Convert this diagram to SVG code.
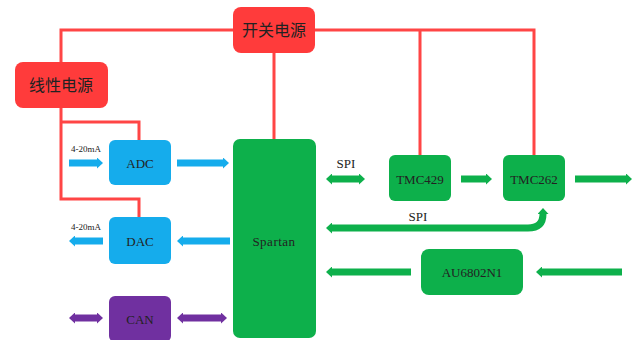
<svg xmlns="http://www.w3.org/2000/svg" width="636" height="340" viewBox="0 0 636 340">
<defs>
<style>
.t{font-family:"Liberation Serif","Noto Sans CJK SC",serif;fill:#222;text-anchor:middle;dominant-baseline:central}
.red{fill:#FF3B3B}
.blue{fill:#15ACEC}
.green{fill:#0DB04B}
.purple{fill:#7030A0}
.wire{fill:none;stroke:#FF4545;stroke-width:3}
.ab{stroke:#15ACEC;stroke-width:7;fill:none}
.ag{stroke:#0DB04B;stroke-width:7;fill:none}
.ap{stroke:#7030A0;stroke-width:7;fill:none}
</style>
<marker id="hb" viewBox="0 0 6 11" refX="0" refY="5.5" markerWidth="6" markerHeight="11" markerUnits="userSpaceOnUse" orient="auto-start-reverse"><path d="M0,0 L6,5.5 L0,11 z" fill="#15ACEC"/></marker>
<marker id="hg" viewBox="0 0 6 11" refX="0" refY="5.5" markerWidth="6" markerHeight="11" markerUnits="userSpaceOnUse" orient="auto-start-reverse"><path d="M0,0 L6,5.5 L0,11 z" fill="#0DB04B"/></marker>
<marker id="hp" viewBox="0 0 6 11" refX="0" refY="5.5" markerWidth="6" markerHeight="11" markerUnits="userSpaceOnUse" orient="auto-start-reverse"><path d="M0,0 L6,5.5 L0,11 z" fill="#7030A0"/></marker>
</defs>
<rect width="636" height="340" fill="#fff"/>
<g id="connectors">
<path class="wire" d="M61,62 V30 H233 M315,30 H534 V155 M420,30 V155 M274,53 V139 M61,108 V199 H139 V217 M61,122 H139 V140"/>
<line class="ab" x1="69" y1="163" x2="97" y2="163" marker-end="url(#hb)"/>
<line class="ab" x1="177" y1="163" x2="223" y2="163" marker-end="url(#hb)"/>
<line class="ab" x1="230" y1="241" x2="183" y2="241" marker-end="url(#hb)"/>
<line class="ab" x1="103" y1="241" x2="75" y2="241" marker-end="url(#hb)"/>
<line class="ap" x1="75" y1="318" x2="97" y2="318" marker-start="url(#hp)" marker-end="url(#hp)"/>
<line class="ap" x1="183" y1="318" x2="221" y2="318" marker-start="url(#hp)" marker-end="url(#hp)"/>
<line class="ag" x1="332" y1="179" x2="359" y2="179" marker-start="url(#hg)" marker-end="url(#hg)"/>
<line class="ag" x1="461" y1="179" x2="486" y2="179" marker-end="url(#hg)"/>
<line class="ag" x1="575" y1="179" x2="626" y2="179" marker-end="url(#hg)"/>
<path class="ag" d="M332,228 H528 Q543,228 543,214" marker-start="url(#hg)" marker-end="url(#hg)"/>
<line class="ag" x1="411" y1="272" x2="332" y2="272" marker-end="url(#hg)"/>
<line class="ag" x1="622" y1="272" x2="542" y2="272" marker-end="url(#hg)"/>
<text class="t" x="86" y="149" font-size="9">4-20mA</text>
<text class="t" x="86" y="227" font-size="9">4-20mA</text>
<text class="t" x="346" y="163" font-size="13">SPI</text>
<text class="t" x="418" y="216" font-size="13">SPI</text>
</g>
<g id="kaiguan"><rect class="red" x="233" y="7" width="82" height="46" rx="8"/><text class="t" x="274" y="30" font-size="16">开关电源</text></g>
<g id="xianxing"><rect class="red" x="15" y="62" width="93" height="46" rx="8"/><text class="t" x="61" y="85" font-size="16">线性电源</text></g>
<g id="adc"><rect class="blue" x="109" y="140" width="62" height="45" rx="6"/><text class="t" x="140" y="163" font-size="13">ADC</text></g>
<g id="dac"><rect class="blue" x="109" y="217" width="62" height="47" rx="6"/><text class="t" x="140" y="241" font-size="13">DAC</text></g>
<g id="can"><rect class="purple" x="109" y="296" width="62" height="46" rx="6"/><text class="t" x="140" y="319" font-size="13">CAN</text></g>
<g id="spartan"><rect class="green" x="233" y="139" width="83" height="199" rx="7"/><text class="t" x="274" y="241" font-size="13" style="letter-spacing:0.5px">Spartan</text></g>
<g id="tmc429"><rect class="green" x="389" y="155" width="62" height="46" rx="6"/><text class="t" x="420" y="179" font-size="13">TMC429</text></g>
<g id="tmc262"><rect class="green" x="503" y="155" width="62" height="46" rx="6"/><text class="t" x="534" y="179" font-size="13">TMC262</text></g>
<g id="au6802"><rect class="green" x="421" y="249" width="102" height="46" rx="8"/><text class="t" x="472" y="272" font-size="13">AU6802N1</text></g>
</svg>
